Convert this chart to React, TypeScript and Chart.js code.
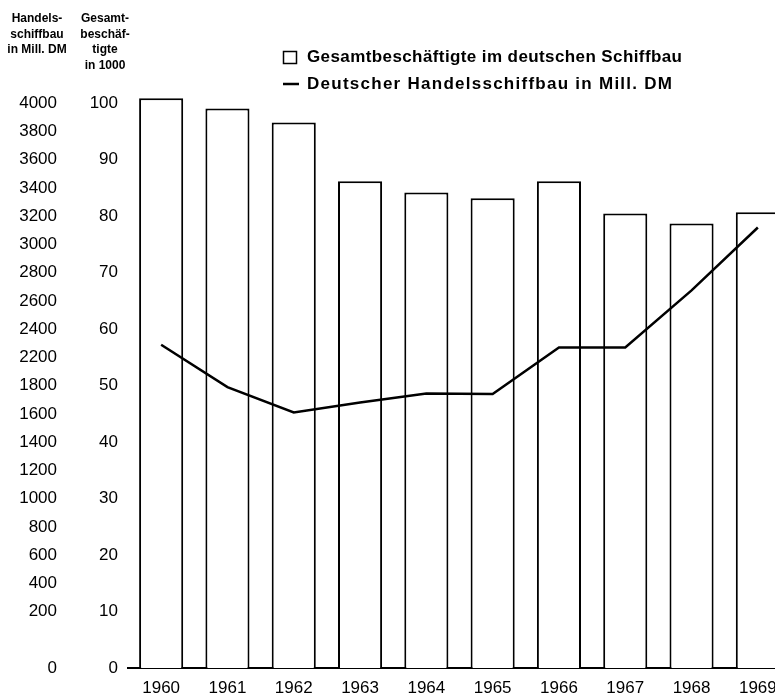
import { useEffect, useRef } from 'react';
import { Chart, registerables } from 'chart.js';

Chart.register(...registerables);

const years = ['1960', '1961', '1962', '1963', '1964', '1965', '1966', '1967', '1968', '1969'];
// Gesamtbeschäftigte im deutschen Schiffbau (in 1000)
const employees = [100.9, 99.1, 96.6, 86.2, 84.2, 83.2, 86.2, 80.5, 78.7, 80.7];
// Deutscher Handelsschiffbau (in Mill. DM)
const shipbuildingDM = [2290, 1990, 1810, 1880, 1945, 1940, 2270, 2270, 2675, 3120];

const employeeTicks = [0, 10, 20, 30, 40, 50, 60, 70, 80, 90, 100];
// DM tick labels as printed in the original (ascending; "2000" is missing there)
const dmTickLabels = ['0', '200', '400', '600', '800', '1000', '1200', '1400', '1600', '1800', '2200', '2400', '2600', '2800', '3000', '3200', '3400', '3600', '3800', '4000'];
const dmStep = 200;

const dmTitle = ['Handels-', 'schiffbau', 'in Mill. DM'];
const employeeTitle = ['Gesamt-', 'beschäf-', 'tigte', 'in 1000'];
const barLabel = 'Gesamtbeschäftigte im deutschen Schiffbau';
const lineLabel = 'Deutscher Handelsschiffbau in Mill. DM';

const FONT = '"Liberation Sans", Arial, sans-serif';

const overlayPlugin = {
  id: 'overlayTexts',
  afterDraw(chart: any) {
    const ctx = chart.ctx as CanvasRenderingContext2D;
    ctx.save();
    ctx.fillStyle = '#000';
    ctx.strokeStyle = '#000';
    ctx.textBaseline = 'middle';
    ctx.textAlign = 'center';
    ctx.font = `bold 12px ${FONT}`;
    dmTitle.forEach((t, i) => ctx.fillText(t, 37, 19 + i * 15.5));
    employeeTitle.forEach((t, i) => ctx.fillText(t, 105, 19 + i * 15.5));

    const drawSpaced = (text: string, x: number, y: number, target: number) => {
      ctx.font = `bold 17px ${FONT}`;
      ctx.textAlign = 'left';
      (ctx as any).letterSpacing = '0px';
      const w = ctx.measureText(text).width;
      const ls = (target - w) / (text.length - 1);
      (ctx as any).letterSpacing = `${ls}px`;
      ctx.fillText(text, x, y);
      (ctx as any).letterSpacing = '0px';
    };
    ctx.lineWidth = 1.5;
    ctx.fillStyle = '#fff';
    ctx.fillRect(283.5, 51.5, 13, 12);
    ctx.strokeRect(283.5, 51.5, 13, 12);
    ctx.fillStyle = '#000';
    drawSpaced(barLabel, 307, 57, 375);
    ctx.lineWidth = 2.5;
    ctx.beginPath();
    ctx.moveTo(283, 84);
    ctx.lineTo(299, 84);
    ctx.stroke();
    drawSpaced(lineLabel, 307, 84, 365);
    ctx.restore();
  },
};

export default function App() {
  const ref = useRef<HTMLCanvasElement | null>(null);

  useEffect(() => {
    if (!ref.current) return;
    const chart = new Chart(ref.current, {
      type: 'bar',
      data: {
        labels: years,
        datasets: [
          {
            type: 'line',
            label: lineLabel,
            data: shipbuildingDM,
            yAxisID: 'yDM',
            borderColor: '#000',
            borderWidth: 2.5,
            pointRadius: 0,
            tension: 0,
            fill: false,
            order: 0,
          } as any,
          {
            type: 'bar',
            label: barLabel,
            data: employees,
            yAxisID: 'yK',
            backgroundColor: '#fff',
            borderColor: '#000',
            borderWidth: 2,
            borderSkipped: 'bottom',
            categoryPercentage: 1,
            barPercentage: 0.665,
            order: 1,
          } as any,
        ],
      },
      options: {
        animation: false,
        responsive: false,
        devicePixelRatio: 1,
        layout: { padding: { top: 92, left: 0, right: 0, bottom: 0 } },
        plugins: {
          legend: { display: false },
          tooltip: { enabled: false },
          title: { display: false },
        },
        scales: {
          x: {
            grid: { display: false, drawTicks: false },
            border: { display: true, color: '#000', width: 2 },
            ticks: { color: '#000', font: { family: FONT, size: 17 }, padding: 10, maxRotation: 0 },
            afterFit: (s: any) => { s.height = 26; },
          },
          yK: {
            type: 'linear',
            position: 'left',
            weight: 1,
            min: 0,
            max: 102,
            grid: { display: false, drawTicks: false },
            border: { display: false },
            ticks: {
              color: '#000',
              font: { family: FONT, size: 17 },
              padding: 10,
              callback: (v: any) => String(v),
            },
            afterBuildTicks: (s: any) => { s.ticks = employeeTicks.map((v) => ({ value: v })); },
            afterFit: (s: any) => { s.width = 64; },
          },
          yDM: {
            type: 'linear',
            position: 'left',
            weight: 2,
            min: 0,
            max: 4080,
            grid: { display: false, drawTicks: false },
            border: { display: false },
            ticks: {
              color: '#000',
              font: { family: FONT, size: 17 },
              padding: 7,
              callback: (_v: any, i: number) => dmTickLabels[i],
            },
            // labels sit on the printed rows: "0" at the baseline, the rest one row up each
            afterBuildTicks: (s: any) => {
              s.ticks = dmTickLabels.map((_, i) => ({ value: i === 0 ? 0 : (i + 1) * dmStep }));
            },
            afterFit: (s: any) => { s.width = 64; },
          },
        },
      } as any,
      plugins: [overlayPlugin],
    });
    return () => chart.destroy();
  }, []);

  return (
    <div style={{ position: 'absolute', left: 0, top: 0, width: 775, height: 694, overflow: 'hidden', background: '#fff' }}>
      <canvas ref={ref} width={791} height={694} style={{ width: 791, height: 694, display: 'block' }} />
    </div>
  );
}
